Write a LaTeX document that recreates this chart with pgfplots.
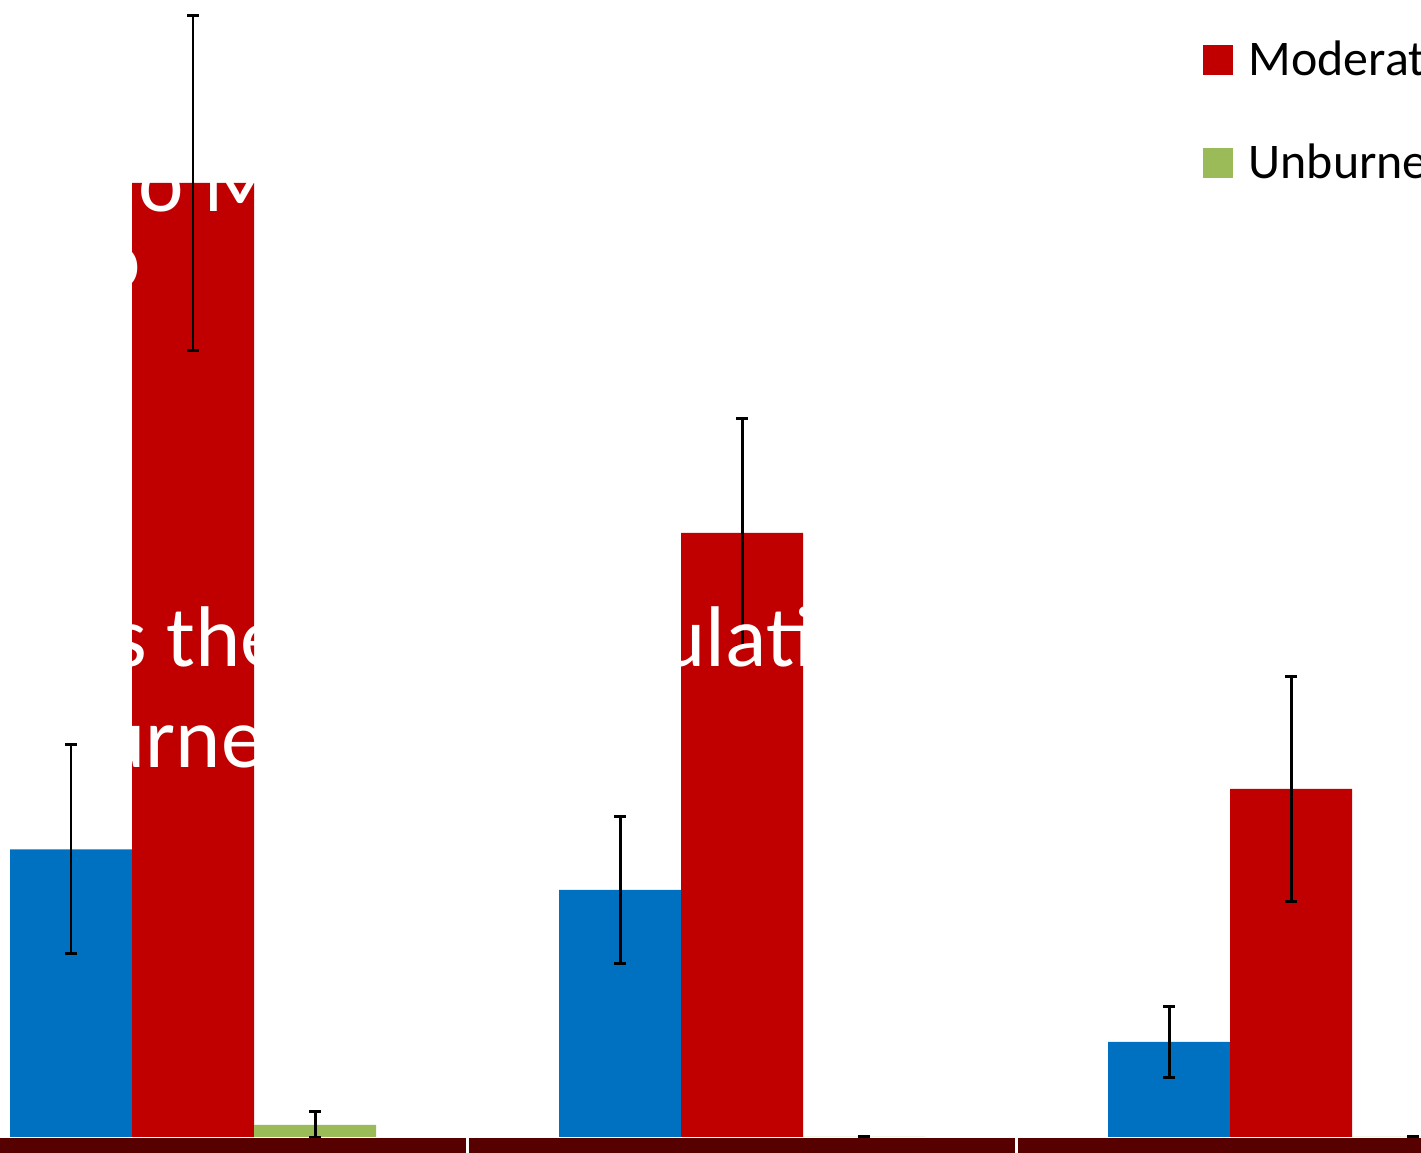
\documentclass[border=0pt]{standalone}
\usepackage{pgfplots}
\pgfplotsset{compat=1.18}
\usepackage{fontspec}
\setmainfont{Carlito}
\definecolor{cblue}{HTML}{0070C0}
\definecolor{cred}{HTML}{C00000}
\definecolor{cgreen}{HTML}{9BBB59}
\definecolor{cband}{HTML}{560000}
\begin{document}
\begin{tikzpicture}
\path[use as bounding box] (0,0) rectangle (14.21cm,11.53cm);
\clip (0,0) rectangle (14.21cm,11.53cm);
\begin{axis}[
  at={(0,0)}, anchor=south west,
  scale only axis, width=14.21cm, height=11.53cm,
  hide axis,
  xmin=-0.35155, xmax=2.23679,
  ymin=-0.16, ymax=11.37,
  ybar, bar width=1.22cm,
  every axis plot/.append style={draw=none},
  error bars/y dir=both, error bars/y explicit,
  error bars/error bar style={draw=black, line width=0.85pt},
  error bars/error mark options={draw=black, rotate=90, mark size=1.7pt, line width=0.85pt},
]
\addplot[fill=cblue, bar shift=-1.22cm] coordinates {
  (0,2.875) +- (0,1.045)
  (1,2.47)  +- (0,0.735)
  (2,0.95)  +- (0,0.355)
};
\addplot[fill=cred, bar shift=0cm] coordinates {
  (0,9.54) +- (0,1.675)
  (1,6.04) +- (0,1.14)
  (2,3.48) +- (0,1.125)
};
\addplot[fill=cgreen, bar shift=1.22cm] coordinates {
  (0,0.12) +- (0,0.13)
  (1,0.0)  +- (0,0.0)
  (2,0.0)  +- (0,0.0)
};
\fill[cband] (axis cs:-0.4,-0.012) rectangle (axis cs:2.3,-0.2);
\draw[white, line width=0.6pt] (axis cs:0.5,-0.012) -- (axis cs:0.5,-0.2);
\draw[white, line width=0.6pt] (axis cs:1.5,-0.012) -- (axis cs:1.5,-0.2);
\end{axis}
% legend
\fill[cblue]  (12.03cm,12.11cm) rectangle (12.33cm,11.81cm);
\node[anchor=base west, inner sep=0pt, font=\fontsize{14.2}{17}\selectfont] at (12.48cm,11.80cm) {High};
\fill[cred]   (12.03cm,11.08cm) rectangle (12.33cm,10.78cm);
\node[anchor=base west, inner sep=0pt, font=\fontsize{14.2}{17}\selectfont] at (12.48cm,10.77cm) {Moderate};
\fill[cgreen] (12.03cm,10.05cm) rectangle (12.33cm,9.75cm);
\node[anchor=base west, inner sep=0pt, font=\fontsize{14.2}{17}\selectfont] at (12.48cm,9.74cm) {Unburned};
% white overlay text
\begin{scope}[every node/.style={anchor=base west, inner sep=0pt, text=white, font=\fontsize{24.5}{29}\selectfont}]
\node at (1.38cm,9.41cm) {o M};
\node at (0.95cm,8.64cm) {o};
\node at (1.13cm,4.86cm) {s the};
\node at (6.60cm,4.86cm) {ulati};
\node at (1.00cm,3.85cm) {urne};
\end{scope}
\end{tikzpicture}
\end{document}
